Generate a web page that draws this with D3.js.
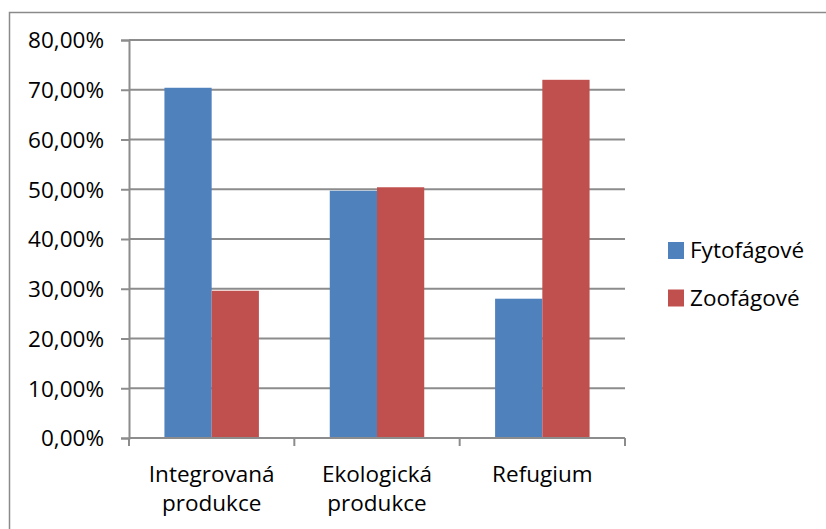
<!DOCTYPE html>
<html>
<head>
<meta charset="utf-8">
<script src="https://cdn.jsdelivr.net/npm/d3@7"></script>
<style>
  html, body { margin: 0; padding: 0; background: #fff; }
  svg { display: block; }
  text { font-family: "Open Sans", "Noto Sans", sans-serif; fill: #000; }
</style>
</head>
<body>
<svg id="chart" width="826" height="529"></svg>
<script>
// Category labels (two lines each) and series values in percent
const categories = ["Integrovaná produkce", "Ekologická produkce", "Refugium"];
const categoryLines = [["Integrovaná", "produkce"], ["Ekologická", "produkce"], ["Refugium"]];
const seriesNames = ["Fytofágové", "Zoofágové"];
const fytofagove = [70.4, 49.7, 28.0];
const zoofagove = [29.6, 50.4, 72.0];
const yTicks = [0, 10, 20, 30, 40, 50, 60, 70, 80];
const colors = ["#4F81BD", "#C0504D"];

const series = [fytofagove, zoofagove];
const svg = d3.select("#chart");
const FS = 22.5;

const plot = { left: 129, right: 625, top: 40, bottom: 438 };

// outer chart frame
svg.append("rect")
  .attr("x", 9.5).attr("y", 12.5)
  .attr("width", 840).attr("height", 540)
  .attr("fill", "none").attr("stroke", "#8a8a8a").attr("stroke-width", 1.5);

const x = d3.scaleBand().domain(categories).range([plot.left, plot.right])
  .paddingInner(0).paddingOuter(0);
const y = d3.scaleLinear().domain([0, 80]).range([plot.bottom, plot.top]);

const barW = x.bandwidth() / 3.5;
const xs = d3.scaleBand().domain(seriesNames)
  .range([0.75 * barW, 2.75 * barW]);

const fmt = v => v.toFixed(2).replace(".", ",") + "%";

// horizontal gridlines
svg.append("g").selectAll("line").data(yTicks.filter(t => t > 0)).join("line")
  .attr("x1", plot.left).attr("x2", plot.right)
  .attr("y1", d => y(d)).attr("y2", d => y(d))
  .attr("stroke", "#8c8c8c").attr("stroke-width", 2);

// bars
categories.forEach((c, ci) => {
  series.forEach((s, si) => {
    svg.append("rect")
      .attr("x", x(c) + xs(seriesNames[si]))
      .attr("y", y(s[ci]))
      .attr("width", xs.bandwidth())
      .attr("height", y(0) - y(s[ci]))
      .attr("fill", colors[si]);
  });
});

// y axis
const yAxis = d3.axisLeft(y).tickValues(yTicks).tickFormat(fmt).tickSize(8).tickPadding(17);
const gy = svg.append("g").attr("transform", `translate(${plot.left},0)`).call(yAxis);
gy.select(".domain").attr("stroke", "#8c8c8c").attr("stroke-width", 2);
gy.selectAll(".tick line").attr("stroke", "#8c8c8c").attr("stroke-width", 2);
gy.selectAll(".tick text").attr("font-size", FS).attr("font-family", "'Open Sans', sans-serif")
  .attr("fill", "#000").attr("dy", "0.35em");

// x axis baseline and category separators
const gx = svg.append("g");
gx.append("line").attr("x1", plot.left).attr("x2", plot.right)
  .attr("y1", plot.bottom).attr("y2", plot.bottom)
  .attr("stroke", "#8c8c8c").attr("stroke-width", 2);
const sepX = categories.map(c => x(c)).concat([plot.right]);
gx.selectAll("line.sep").data(sepX).join("line").attr("class", "sep")
  .attr("x1", d => d).attr("x2", d => d)
  .attr("y1", plot.bottom).attr("y2", plot.bottom + 8)
  .attr("stroke", "#8c8c8c").attr("stroke-width", 2);

// category labels
categories.forEach((c, ci) => {
  const t = svg.append("text")
    .attr("x", x(c) + x.bandwidth() / 2)
    .attr("y", 482)
    .attr("text-anchor", "middle")
    .attr("font-size", FS);
  categoryLines[ci].forEach((ln, li) => {
    t.append("tspan").attr("x", x(c) + x.bandwidth() / 2)
      .attr("dy", li === 0 ? 0 : 29).text(ln);
  });
});

// legend
const lg = svg.append("g");
seriesNames.forEach((n, i) => {
  const yy = 242 + i * 47.5;
  lg.append("rect").attr("x", 668).attr("y", yy).attr("width", 16).attr("height", 17)
    .attr("fill", colors[i]);
  lg.append("text").attr("x", 690).attr("y", yy + 16).attr("font-size", FS).text(n);
});
</script>
</body>
</html>
